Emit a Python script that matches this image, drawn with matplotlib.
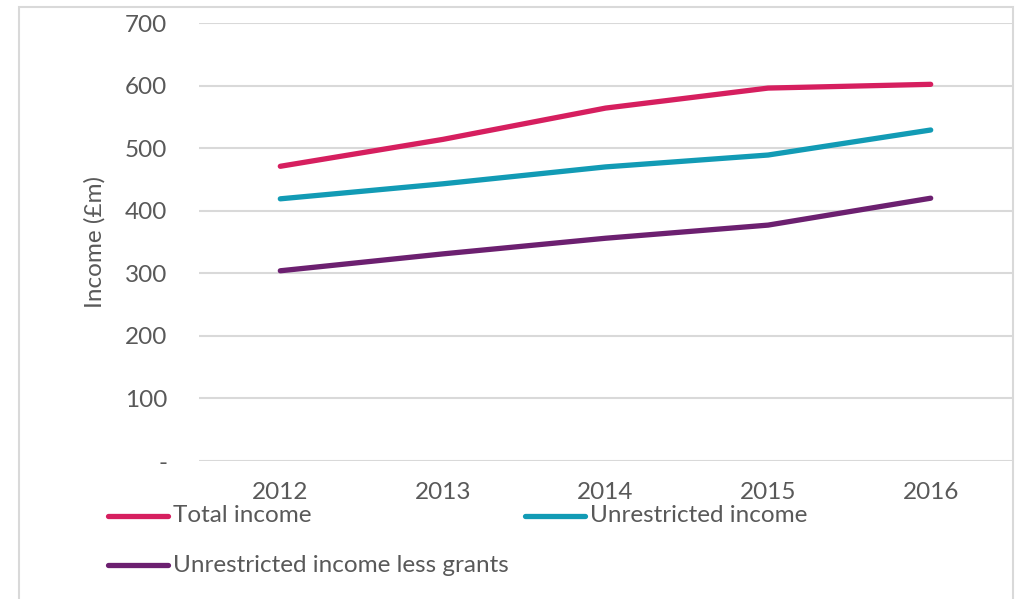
import matplotlib
matplotlib.use("Agg")
import matplotlib.pyplot as plt
from matplotlib.lines import Line2D
from matplotlib.patches import Rectangle
from matplotlib.ticker import FuncFormatter

years = ["2012", "2013", "2014", "2015", "2016"]
total_income = [471, 514, 564, 596, 602]
unrestricted_income = [419, 443, 470, 489, 529]
unrestricted_less_grants = [304, 331, 356, 377, 420]

series_names = ["Total income", "Unrestricted income", "Unrestricted income less grants"]
colours = ["#D61F5F", "#129BB5", "#6C2070"]
text_grey = "#595959"

plt.rcParams["font.family"] = ["Lato", "DejaVu Sans"]

W, H = 1017, 599
fig = plt.figure(figsize=(W / 100, H / 100), dpi=100)

def fx(px):
    return px / W

def fy(py):
    return 1 - py / H

# outer chart border
fig.patches.append(Rectangle((fx(19), fy(640)), fx(1013) - fx(19), fy(7) - fy(640),
                             transform=fig.transFigure, fill=False,
                             edgecolor="#D9D9D9", linewidth=1.5))

ax = fig.add_axes([fx(199), fy(461), fx(1012) - fx(199), fy(23) - fy(461)])
x = range(len(years))
for vals, col in zip([total_income, unrestricted_income, unrestricted_less_grants], colours):
    ax.plot(x, vals, color=col, linewidth=3.8, solid_capstyle="round", zorder=3)

ax.set_xlim(-0.5, len(years) - 0.5)
ax.set_ylim(0, 700)
ax.set_yticks(range(0, 701, 100))
ax.yaxis.set_major_formatter(FuncFormatter(lambda v, p: "-" if v == 0 else f"{v:.0f}"))
ax.set_xticks(list(x))
ax.set_xticklabels(years)
ax.grid(axis="y", color="#D9D9D9", linewidth=1.5, zorder=0)
for s in ax.spines.values():
    s.set_visible(False)
ax.tick_params(axis="both", length=0, labelsize=17.5, labelcolor=text_grey)
ax.tick_params(axis="y", pad=23)
ax.tick_params(axis="x", pad=15)
ax.set_ylabel("Income (£m)", fontsize=17.5, color=text_grey, labelpad=14)

# legend drawn in figure coordinates
legend_pos = [(108, 516), (525, 516), (108, 565)]
for name, col, (lx, ly) in zip(series_names, colours, legend_pos):
    fig.add_artist(Line2D([fx(lx), fx(lx + 60)], [fy(ly), fy(ly)], transform=fig.transFigure,
                          color=col, linewidth=3.8, solid_capstyle="round"))
    fig.text(fx(lx + 65), fy(ly), name, fontsize=17.5, color=text_grey, va="center", ha="left")

fig.savefig("out.png", dpi=100)
